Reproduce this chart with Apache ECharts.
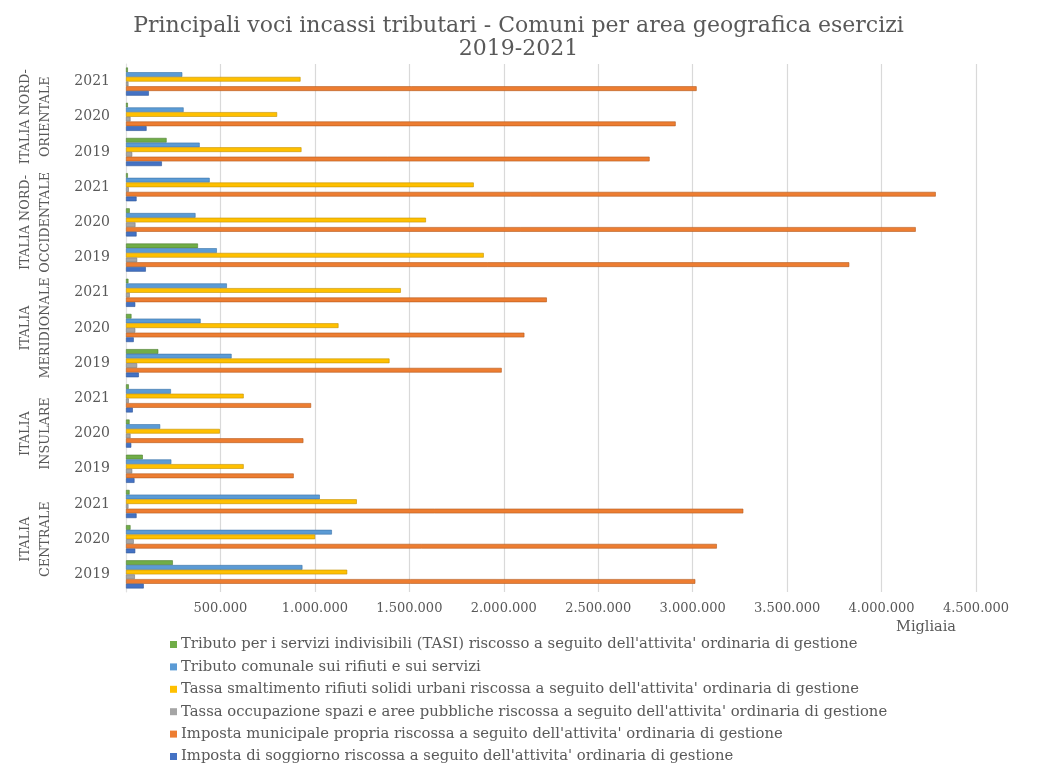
<!DOCTYPE html>
<html>
<head>
<meta charset="utf-8">
<script src="https://cdn.jsdelivr.net/npm/echarts@6/dist/echarts.min.js"></script>
<style>html,body{margin:0;padding:0;background:#fff}#c{width:1037px;height:765px}</style>
</head>
<body>
<div id="c"></div>
<script>
// Categories, bottom to top
const regions = ['ITALIA\nCENTRALE', 'ITALIA\nINSULARE', 'ITALIA\nMERIDIONALE', 'ITALIA NORD-\nOCCIDENTALE', 'ITALIA NORD-\nORIENTALE'];
const years = ['2019', '2020', '2021'];
const seriesNames = [
  "Tributo per i servizi indivisibili (TASI) riscosso a seguito dell'attivita' ordinaria di gestione",
  "Tributo comunale sui rifiuti e sui servizi",
  "Tassa smaltimento rifiuti solidi urbani riscossa a seguito dell'attivita' ordinaria di gestione",
  "Tassa occupazione spazi e aree pubbliche riscossa a seguito dell'attivita' ordinaria di gestione",
  "Imposta municipale propria riscossa a seguito dell'attivita' ordinaria di gestione",
  "Imposta di soggiorno riscossa a seguito dell'attivita' ordinaria di gestione"
];
// Values (Migliaia), order: CEN 2019,2020,2021, INS 2019..2021, MER, NO, NE
const tasi      = [248000, 24000, 19000,   89000, 19000, 15000,   171000, 29000, 13000,   381000, 20000, 10000,   215000, 10000, 10000];
const tributo   = [934000, 1090000, 1026000, 240000, 181000, 238000, 559000, 395000, 534000, 481000, 368000, 443000, 390000, 305000, 298000];
const tarsu     = [1171000, 1001000, 1222000, 623000, 497000, 623000, 1395000, 1125000, 1455000, 1894000, 1588000, 1841000, 929000, 800000, 924000];
const tosap     = [47000, 41000, 13000,   33000, 24000, 15000,   59000, 49000, 20000,   59000, 50000, 15000,   33000, 24000, 13000];
const imu       = [3014000, 3128000, 3268000, 888000, 939000, 980000, 1989000, 2109000, 2228000, 3829000, 4181000, 4287000, 2772000, 2910000, 3021000];
const soggiorno = [94000, 49000, 56000,   45000, 28000, 36000,   68000, 41000, 49000,   105000, 56000, 56000,   190000, 109000, 121000];
const xTicks = [0, 500000, 1000000, 1500000, 2000000, 2500000, 3000000, 3500000, 4000000, 4500000];

const colors = ['#70AD47', '#5B9BD5', '#FFC000', '#A5A5A5', '#ED7D31', '#4472C4'];
const borders = ['#4f7d32', '#3c73a8', '#c29100', '#7a7a7a', '#b35a1f', '#2f5597'];
const valuesList = [tasi, tributo, tarsu, tosap, imu, soggiorno];

const cats = [];
regions.forEach((r, ri) => years.forEach(y => cats.push(ri + '|' + y)));

const FONT = 'DejaVu Serif';
const TXT = '#595959';

function fmt(v) {
  return String(v).replace(/\B(?=(\d{3})+(?!\d))/g, '.');
}

const chart = echarts.init(document.getElementById('c'));
chart.setOption({
  animation: false,
  backgroundColor: '#fff',
  title: {
    text: 'Principali voci incassi tributari - Comuni per area geografica esercizi\n2019-2021',
    left: 'center', top: 10,
    textStyle: { fontFamily: FONT, fontSize: 22, fontWeight: 'normal', color: TXT, lineHeight: 23 }
  },
  legend: {
    orient: 'vertical', left: 170, top: 637, height: 130,
    data: seriesNames,
    itemWidth: 7, itemHeight: 7, itemGap: 7.4,
    icon: 'rect',
    padding: 0,
    itemStyle: { borderWidth: 0 },
    textStyle: { fontFamily: FONT, fontSize: 14.8, color: TXT, padding: [0, 0, 0, -1] }
  },
  grid: { left: 126, right: 61, top: 64, bottom: 173, containLabel: false },
  xAxis: {
    type: 'value', min: xTicks[0], max: xTicks[xTicks.length - 1], interval: xTicks[1] - xTicks[0],
    name: 'Migliaia', nameLocation: 'end',
    nameGap: 0,
    nameTextStyle: { fontFamily: FONT, fontSize: 14.5, color: TXT, align: 'right', verticalAlign: 'top', padding: [28, 20, 0, 0] },
    axisLine: { show: false }, axisTick: { show: false },
    splitLine: { lineStyle: { color: '#D9D9D9', width: 1.2 } },
    axisLabel: {
      fontFamily: FONT, fontSize: 13, color: TXT, margin: 10,
      formatter: v => v === 0 ? '' : fmt(v)
    }
  },
  yAxis: [
    {
      type: 'category', data: cats,
      axisLine: { show: true, lineStyle: { color: '#E0E0E0' } },
      axisTick: { show: false },
      axisLabel: { fontFamily: FONT, fontSize: 14, color: TXT, margin: 16, interval: 0, formatter: v => v.split('|')[1] }
    },
    {
      type: 'category', data: regions, position: 'left', offset: 76,
      axisLine: { show: false }, axisTick: { show: false },
      axisLabel: { fontFamily: FONT, fontSize: 12.8, color: TXT, rotate: 90, interval: 0, hideOverlap: false, lineHeight: 20, align: 'center', verticalAlign: 'middle', margin: 14 }
    }
  ],
  series: valuesList.map((vals, i) => ({
    name: seriesNames[i], type: 'bar', yAxisIndex: 0,
    data: vals,
    barGap: '0%', barCategoryGap: '20%',
    itemStyle: { color: colors[i], borderColor: borders[i], borderWidth: 0.6 }
  }))
});
</script>
</body>
</html>
